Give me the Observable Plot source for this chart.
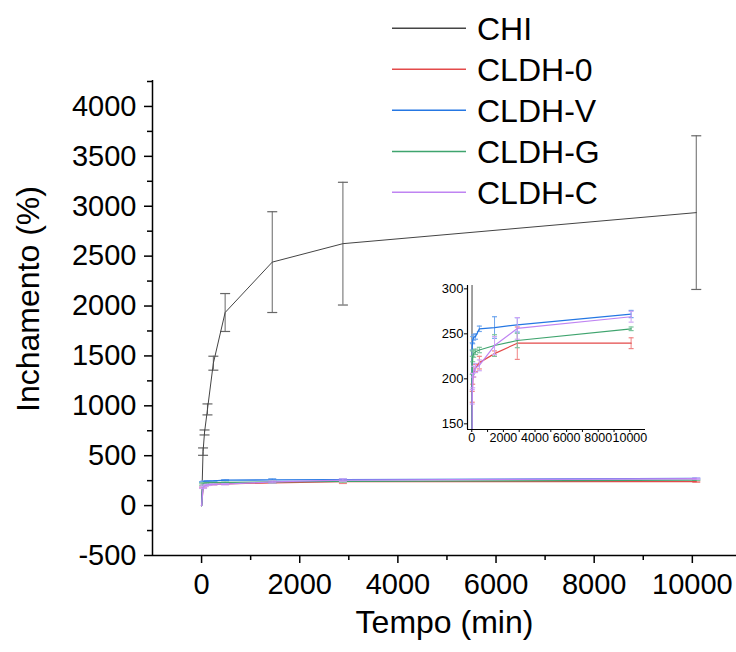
<!DOCTYPE html>
<html><head><meta charset="utf-8">
<script src="https://cdn.jsdelivr.net/npm/d3@7"></script>
<script src="https://cdn.jsdelivr.net/npm/@observablehq/plot@0.6"></script>
<style>
body{margin:0;background:#fff;}
#wrap{position:relative;width:736px;height:652px;font-family:"Liberation Sans",Arial,sans-serif;}
#wrap > *{position:absolute;}
</style></head><body><div id="wrap"></div>
<script>
// ---- data ----
const series = ["CHI", "CLDH-0", "CLDH-V", "CLDH-G", "CLDH-C"];
const lineColors = ["#444444", "#e34a4a", "#2577e3", "#3fa46e", "#bf84f2"];
const barColors = ["#666666", "#f08585", "#6ea6ee", "#7cc49c", "#cfa6f6"];
const times = [0, 30, 60, 120, 240, 480, 1440, 2880, 10080];
const chi = [0, 541, 733, 964, 1427, 1935, 2440, 2625, 2936];
const chiErr = [0, 37, 25, 55, 70, 190, 505, 615, 770];
const cldh0 = [0, 180, 200, 207, 212, 218, 228, 239.6, 239.6];
const cldh0Err = [0, 6, 6, 5, 4, 7, 3, 18, 6];
const cldhV = [0, 236, 243, 246, 247, 255.6, 257, 260, 272];
const cldhVErr = [0, 4, 4, 3, 3, 3, 12, 8, 4];
const cldhG = [0, 215, 225, 228, 230, 232, 237, 242.6, 255.6];
const cldhGErr = [0, 10, 6, 4, 3, 3, 12, 8, 2];
const cldhC = [0, 180, 198, 208, 212, 215, 237, 256, 269];
const cldhCErr = [0, 8, 8, 6, 5, 6, 10, 12, 6];
const xTicks = [0, 2000, 4000, 6000, 8000, 10000];
const xMinorTicks = [1000, 3000, 5000, 7000, 9000];
const yTicks = [-500, 0, 500, 1000, 1500, 2000, 2500, 3000, 3500, 4000];
const yMinorTicks = [-250, 250, 750, 1250, 1750, 2250, 2750, 3250, 3750, 4250];
const insetYTicks = [150, 200, 250, 300];

const values = [chi, cldh0, cldhV, cldhG, cldhC];
const errs = [chiErr, cldh0Err, cldhVErr, cldhGErr, cldhCErr];
const rowsBy = series.map((s, i) => times.map((t, j) => ({series: s, t, v: values[i][j], e: errs[i][j]})));

const FONT = "Liberation Sans, Arial, sans-serif";
const cap = {draw(ctx, size) { const w = Math.sqrt(size / Math.PI); ctx.moveTo(-w, 0); ctx.lineTo(w, 0); }};

function seriesMarks(i, capR, sw, clip) {
  const rows = rowsBy[i];
  const we = rows.filter(d => d.e > 0);
  return [
    Plot.ruleX(we, {x: "t", y1: d => d.v - d.e, y2: d => d.v + d.e, stroke: barColors[i], strokeWidth: 1, clip}),
    Plot.dot(we, {x: "t", y: d => d.v + d.e, symbol: cap, r: capR, stroke: barColors[i], fill: "none", strokeWidth: 1.2, clip}),
    Plot.dot(we, {x: "t", y: d => d.v - d.e, symbol: cap, r: capR, stroke: barColors[i], fill: "none", strokeWidth: 1.2, clip}),
    Plot.line(rows, {x: "t", y: "v", stroke: lineColors[i], strokeWidth: sw, clip})
  ];
}

const wrap = document.getElementById("wrap");

// ---- main chart ----
const main = Plot.plot({
  width: 736, height: 652,
  marginLeft: 152, marginRight: 0, marginTop: 80, marginBottom: 97,
  style: {fontFamily: FONT, color: "black", background: "white", overflow: "visible"},
  x: {domain: [-1000, 10900], label: null},
  y: {domain: [-500, 4260], label: null},
  marks: [
    Plot.axisY({ticks: yMinorTicks, tickSize: 5, tickFormat: () => "", strokeWidth: 1.5}),
    Plot.axisY({ticks: yTicks, tickSize: 8, tickPadding: 8, fontSize: 29, strokeWidth: 1.5, tickFormat: d => String(d)}),
    Plot.axisX({ticks: xMinorTicks, tickSize: 5, tickFormat: () => "", strokeWidth: 1.5}),
    Plot.axisX({ticks: xTicks, tickSize: 8, tickPadding: 10, fontSize: 29, strokeWidth: 1.5, tickFormat: d => String(d)}),
    Plot.ruleX([-1000], {stroke: "black", strokeWidth: 1.5}),
    Plot.ruleY([-500], {stroke: "black", strokeWidth: 1.5}),
    Plot.text(["Tempo (min)"], {frameAnchor: "bottom", textAnchor: "middle", dy: 77, fontSize: 32, fill: "black"}),
    Plot.text(["Inchamento (%)"], {frameAnchor: "left", textAnchor: "middle", dx: -124, dy: -19, rotate: -90, fontSize: 32, fill: "black"}),
    ...seriesMarks(0, 5, 1, false),
    ...seriesMarks(1, 4, 1.3, false),
    ...seriesMarks(2, 4, 1.3, false),
    ...seriesMarks(3, 4, 1.3, false),
    ...seriesMarks(4, 4, 1.3, false)
  ]
});
main.style.left = "0px"; main.style.top = "0px";
wrap.appendChild(main);

// ---- inset ----
const inset = Plot.plot({
  width: 250, height: 180,
  marginLeft: 67, marginRight: 5, marginTop: 15, marginBottom: 21,
  style: {fontFamily: FONT, color: "black", background: "transparent", overflow: "visible"},
  x: {domain: [-270, 10990], label: null},
  y: {domain: [143.7, 303.7], label: null},
  marks: [
    Plot.axisY({ticks: insetYTicks, tickSize: 3, tickPadding: 1, fontSize: 13, tickFormat: d => String(d)}),
    Plot.axisX({ticks: xMinorTicks, tickSize: 3, tickFormat: () => ""}),
    Plot.axisX({ticks: xTicks, tickSize: 3, tickPadding: 1, fontSize: 12.5, tickFormat: d => String(d)}),
    Plot.ruleX([-270], {stroke: "black", strokeWidth: 1.2}),
    Plot.ruleY([143.7], {stroke: "black", strokeWidth: 1.2}),
    ...seriesMarks(0, 2.5, 1, true),
    ...seriesMarks(1, 2.5, 1.2, true),
    ...seriesMarks(2, 2.5, 1.2, true),
    ...seriesMarks(3, 2.5, 1.2, true),
    ...seriesMarks(4, 2.5, 1.2, true)
  ]
});
inset.style.left = "400px"; inset.style.top = "270px";
wrap.appendChild(inset);

// ---- legend ----
const legend = d3.create("svg").attr("width", 736).attr("height", 215)
  .style("left", "0px").style("top", "0px").style("font-family", FONT);
const rowY = [28.3, 69.3, 110.2, 151.5, 192.3];
series.forEach((s, i) => {
  legend.append("line").attr("x1", 392).attr("x2", 466).attr("y1", rowY[i]).attr("y2", rowY[i])
    .attr("stroke", lineColors[i]).attr("stroke-width", 1.5);
  legend.append("text").attr("x", 477).attr("y", rowY[i]).attr("dy", "0.36em")
    .attr("font-size", 32).attr("fill", "black").text(s);
});
wrap.appendChild(legend.node());
</script></body></html>
